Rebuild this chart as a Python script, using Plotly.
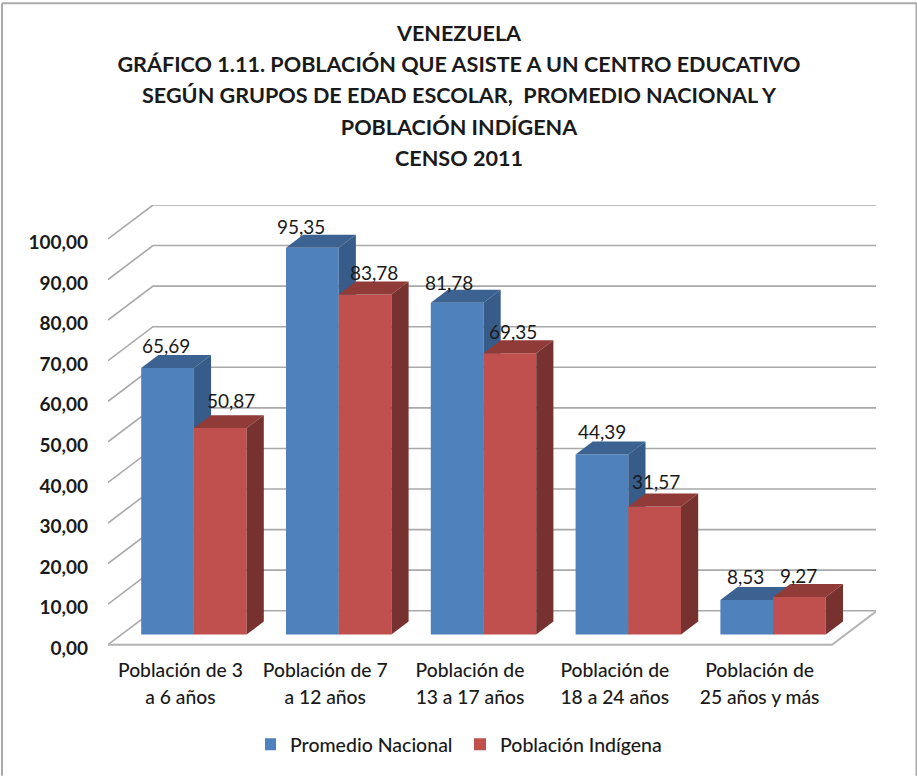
import plotly.graph_objects as go

# --- data ---
categories = ["Población de 3<br>a 6 años", "Población de 7<br>a 12 años", "Población de<br>13 a 17 años",
              "Población de<br>18 a 24 años", "Población de<br>25 años y más"]
promedio_nacional = [65.69, 95.35, 81.78, 44.39, 8.53]
poblacion_indigena = [50.87, 83.78, 69.35, 31.57, 9.27]
y_ticks = [0, 10, 20, 30, 40, 50, 60, 70, 80, 90, 100]
title_lines = ["VENEZUELA", "GRÁFICO 1.11. POBLACIÓN QUE ASISTE A UN CENTRO EDUCATIVO",
               "SEGÚN GRUPOS DE EDAD ESCOLAR,  PROMEDIO NACIONAL Y", "POBLACIÓN INDÍGENA", "CENSO 2011"]

# --- layout constants (pixels) ---
W, H = 917, 776
L, R, T, B0 = 108, 876, 205, 645   # B0: pixel of value 0 on the front plane
PX_X = 144.8          # px per category
PX_Y = 4.06           # px per value unit
Y_PAD = 5             # value units kept below zero so labels can sit a little lower
B = B0 + Y_PAD * PX_Y
DX, DY = 45 / PX_X, 34 / PX_Y   # full floor depth in data units
X_RANGE = [-0.5, -0.5 + (R - L) / PX_X]
Y_RANGE = [-Y_PAD, (B0 - T) / PX_Y]
FONT = "Lato"
TXT = "#1a1a1a"
GRID = "#a9a9a9"
BAR_W = 0.364
D0, D1 = 0.30, 0.682   # bar front/back depth fraction
TICK_LABEL_DROP = 0.85  # value units

def proj(x, v, d):
    return x + d * DX, v + d * DY

fig = go.Figure()

# walls / gridlines on the main axes
n = len(categories)
xs, ys = [], []
for t in y_ticks:
    a = proj(-0.5, t, 0); b = proj(-0.5, t, 1); c = proj(n - 0.5, t, 1)
    xs += [a[0], b[0], c[0], None]; ys += [a[1], b[1], c[1], None]
fig.add_trace(go.Scatter(x=xs, y=ys, mode="lines", line=dict(color=GRID, width=1.6),
                         showlegend=False, hoverinfo="skip", cliponaxis=False))
a = proj(-0.5, 0, 0); b = proj(n - 0.5, 0, 0); c = proj(n - 0.5, 0, 1)
fig.add_trace(go.Scatter(x=[a[0], b[0], c[0]], y=[a[1], b[1], c[1]], mode="lines",
                         line=dict(color="#b4b4b4", width=2), showlegend=False,
                         hoverinfo="skip", cliponaxis=False))

series = [
    ("Promedio Nacional", promedio_nacional, "#4f81bd", "#3b6291", "#375c89", -BAR_W / 2, "x2", "y2"),
    ("Población Indígena", poblacion_indigena, "#c0504d", "#913b39", "#773230", BAR_W / 2, "x3", "y3"),
]
label_shift = [[-2, -11, -8, 0, -1], [11, 9, 3, 1, -1]]
label_lift = [[22, 21, 20, 23, 23], [28, 22, 22, 25, 21]]

annotations = []
for s, (name, vals, front, top, side, off, xa, ya) in enumerate(series):
    centers = [i + D0 * DX + off for i in range(n)]
    base = D0 * DY
    fig.add_trace(go.Bar(x=centers, y=vals, base=[base] * n, width=BAR_W, marker=dict(color=front, line=dict(width=0)),
                         xaxis=xa, yaxis=ya, showlegend=False, legendgroup=name, name=name,
                         hovertemplate="%{customdata}<extra>" + name + "</extra>", customdata=vals))
    for i, v in enumerate(vals):
        x0, x1 = i + off - BAR_W / 2, i + off + BAR_W / 2
        # top face
        p = [proj(x0, v, D0), proj(x1, v, D0), proj(x1, v, D1), proj(x0, v, D1), proj(x0, v, D0)]
        fig.add_trace(go.Scatter(x=[q[0] for q in p], y=[q[1] for q in p], mode="lines", fill="toself",
                                 fillcolor=top, line=dict(width=0), xaxis=xa, yaxis=ya, showlegend=False,
                                 hoverinfo="skip", legendgroup=name, cliponaxis=False))
        # side face
        p = [proj(x1, 0, D0), proj(x1, v, D0), proj(x1, v, D1), proj(x1, 0, D1), proj(x1, 0, D0)]
        fig.add_trace(go.Scatter(x=[q[0] for q in p], y=[q[1] for q in p], mode="lines", fill="toself",
                                 fillcolor=side, line=dict(width=0), xaxis=xa, yaxis=ya, showlegend=False,
                                 hoverinfo="skip", legendgroup=name, cliponaxis=False))
        annotations.append(dict(x=centers[i], y=v + base, xref="x", yref="y", text=f"{v:.2f}".replace(".", ","),
                                showarrow=False, xshift=label_shift[s][i], yshift=label_lift[s][i],
                                xanchor="center", yanchor="middle",
                                font=dict(family=FONT, size=19, color=TXT)))
    # legend entry with a square swatch
    fig.add_trace(go.Scatter(x=[None], y=[None], mode="markers", name=name, legendgroup=name,
                             marker=dict(symbol="square", size=12, color=front), xaxis=xa, yaxis=ya,
                             showlegend=True))

def px_x(p): return (p - L) / (R - L)
def px_y(p): return (B - p) / (B - T)

border = [(2, H, 2, 3), (2, 3, 916.5, 3), (916.5, 3, 916.5, H)]
shapes = [dict(type="line", xref="paper", yref="paper", x0=px_x(a), y0=px_y(b), x1=px_x(c), y1=px_y(d),
               line=dict(color="#aaaaaa", width=2)) for a, b, c, d in border]

title = "<br>".join(f'<span style="font-size:21.6px">{t}</span>' for t in title_lines)
cat_text = ["<br>".join(f'<span style="font-size:19.3px">{part}</span>' for part in c.split("<br>")) for c in categories]
hidden = dict(range=X_RANGE, visible=False, fixedrange=True)
hiddeny = dict(range=Y_RANGE, visible=False, fixedrange=True)

fig.update_layout(
    width=W, height=H, autosize=False, paper_bgcolor="white", plot_bgcolor="white",
    margin=dict(l=L, r=W - R, t=T, b=H - B, pad=0),
    barmode="overlay", shapes=shapes, annotations=annotations,
    title=dict(text=title, x=459 / W, xanchor="center", y=1 - 41 / H, yanchor="top", yref="container",
               font=dict(family=FONT, size=24, color=TXT, weight="bold")),
    font=dict(family=FONT, color=TXT),
    xaxis=dict(range=X_RANGE, tickmode="array", tickvals=list(range(n)), ticktext=cat_text,
               showgrid=False, zeroline=False, showline=False, ticks="", ticklabelstandoff=-9,
               tickfont=dict(family=FONT, size=20.3, color=TXT, weight=500), tickangle=0, fixedrange=True),
    yaxis=dict(range=Y_RANGE, tickmode="array", tickvals=[t - TICK_LABEL_DROP for t in y_ticks],
               ticktext=[f"{t:.2f}".replace(".", ",") for t in y_ticks],
               showgrid=False, zeroline=False, showline=False, ticks="", ticklabelstandoff=19,
               tickfont=dict(family=FONT, size=19, color=TXT, weight="bold"), fixedrange=True),
    xaxis2=dict(hidden, overlaying="x", anchor="y2"),
    yaxis2=dict(hiddeny, overlaying="y", anchor="x2"),
    xaxis3=dict(hidden, overlaying="x", anchor="y3"),
    yaxis3=dict(hiddeny, overlaying="y", anchor="x3"),
    legend=dict(orientation="h", x=px_x(265), xanchor="left", y=px_y(745), yanchor="middle",
                itemwidth=30, indentation=-15, entrywidth=180, entrywidthmode="pixels",
                bgcolor="rgba(0,0,0,0)", font=dict(family=FONT, size=19.5, color=TXT, weight=500)),
)

fig.write_html("out.html", config=dict(displayModeBar=False),
               post_script="document.body.style.margin='0';document.body.style.overflow='hidden';")
